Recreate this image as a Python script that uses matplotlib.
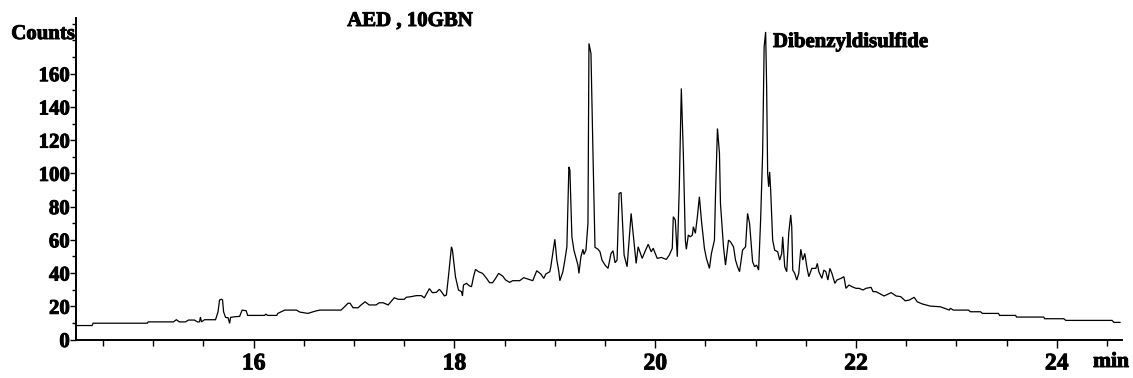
import matplotlib
matplotlib.use("Agg")
import matplotlib.pyplot as plt
import matplotlib.patheffects as pe
from matplotlib.ticker import FixedLocator, MultipleLocator

# ---------------- data ----------------
time_min = [
    14.24, 14.39, 14.40, 14.94, 14.95, 15.20, 15.23, 15.26, 15.32, 15.35,
    15.41, 15.44, 15.46, 15.47, 15.48, 15.51, 15.62, 15.645, 15.66, 15.68,
    15.69, 15.70, 15.72, 15.745, 15.76, 15.77, 15.81, 15.86, 15.885, 15.925,
    15.94, 16.11, 16.12, 16.14, 16.23, 16.24, 16.31, 16.425, 16.46, 16.54,
    16.62, 16.66,
    16.87, 16.89, 16.94, 16.96, 16.99, 17.04, 17.07, 17.11, 17.15, 17.22,
    17.25, 17.29, 17.34, 17.40, 17.44, 17.50, 17.52, 17.57, 17.62, 17.67,
    17.70, 17.75, 17.78, 17.82, 17.85, 17.87, 17.90, 17.92, 17.94, 17.97,
    17.98, 18.01, 18.04, 18.07, 18.08, 18.09, 18.12, 18.15, 18.17, 18.19,
    18.21, 18.24, 18.28, 18.32, 18.35, 18.38, 18.41, 18.44, 18.48, 18.51,
    18.55, 18.58, 18.65, 18.69, 18.73, 18.78,
    18.82, 18.86, 18.89, 18.91, 18.95, 18.96, 19.00, 19.02, 19.04, 19.05,
    19.08, 19.10, 19.12, 19.14, 19.15, 19.17, 19.19, 19.23, 19.24, 19.26,
    19.28, 19.29, 19.31, 19.33, 19.34, 19.36, 19.38, 19.40, 19.43, 19.45,
    19.47, 19.50, 19.53, 19.56, 19.58, 19.60, 19.62, 19.64, 19.66, 19.69,
    19.72, 19.76, 19.78, 19.81, 19.83, 19.87, 19.89, 19.93, 19.96, 19.98,
    20.02, 20.06,
    20.11, 20.14, 20.17, 20.18, 20.20, 20.22, 20.24, 20.26, 20.28, 20.30,
    20.31, 20.33, 20.35, 20.37, 20.38, 20.40, 20.42, 20.44, 20.46, 20.49,
    20.51, 20.54, 20.56, 20.59, 20.60, 20.62, 20.64, 20.65, 20.68, 20.70,
    20.73, 20.75, 20.78, 20.80, 20.82, 20.84, 20.87, 20.90, 20.92, 20.94,
    20.97, 20.99, 21.01, 21.03, 21.05, 21.07, 21.085, 21.10, 21.11, 21.12,
    21.13, 21.14, 21.15, 21.17, 21.19, 21.22, 21.24, 21.26, 21.27, 21.29,
    21.31, 21.33, 21.35,
    21.36, 21.37, 21.39, 21.41, 21.43, 21.45, 21.47, 21.49, 21.51, 21.53,
    21.56, 21.60, 21.615, 21.63, 21.66, 21.68, 21.70, 21.72, 21.74, 21.76,
    21.79, 21.81, 21.85, 21.88, 21.90, 21.93, 21.96, 22.00, 22.03, 22.07,
    22.10, 22.15, 22.17, 22.20, 22.23, 22.28, 22.35, 22.40, 22.445, 22.49,
    22.53, 22.58, 22.61, 22.66,
    22.74, 22.84, 22.88, 22.93, 22.94, 22.97, 23.12, 23.14, 23.24, 23.26,
    23.42, 23.43, 23.59, 23.60, 23.87, 23.88, 24.07, 24.09, 24.55, 24.57,
    24.63,
]

counts = [
    8.4, 8.4, 9.8, 9.8, 10.6, 10.6, 11.9, 10.6, 10.6, 11.7,
    11.7, 10.6, 10.6, 13.5, 10.6, 11.9, 11.9, 16.7, 23.8, 24.2,
    23.8, 16.7, 13.3, 13.1, 9.7, 13.3, 13.7, 13.9, 17.7, 17.3,
    14.5, 14.5, 15.3, 14.5, 14.5, 15.7, 17.7, 17.7, 16.5, 15.7,
    17.2, 17.7,
    17.7, 18.8, 21.8, 21.8, 19.1, 19.1, 20.8, 22.7, 20.8, 20.8,
    22.1, 22.1, 20.8, 25.1, 24.2, 24.2, 25.4, 25.8, 26.4, 26.4,
    25.1, 30.6, 28.2, 28.4, 30.2, 28.8, 26.2, 26.8, 37.8, 55.8,
    53.8, 37.8, 29.8, 28.8, 26.2, 32.8, 33.8, 32.2, 31.8, 37.8,
    42.2, 40.8, 39.8, 36.8, 34.2, 34.2, 36.8, 39.8, 38.2, 35.8,
    34.4, 35.4, 35.4, 37.2, 36.4, 35.4,
    41.4, 39.4, 36.8, 39.4, 40.8, 43.8, 60.3, 47.8, 40.8, 35.4,
    40.8, 47.8, 55.8, 103.9, 102.0, 61.8, 53.8, 44.8, 39.8, 49.8,
    54.3, 51.2, 53.8, 69.9, 178.2, 172.1, 112.0, 55.5, 54.3, 52.8,
    47.8, 44.8, 42.8, 51.8, 53.4, 46.2, 47.8, 87.9, 88.5, 50.8,
    43.8, 75.9, 63.9, 45.8, 55.8, 48.8, 51.8, 57.3, 52.8, 54.9,
    48.8, 49.4,
    48.2, 50.8, 54.9, 73.9, 71.9, 49.8, 91.9, 151.1, 112.0, 59.8,
    54.3, 62.9, 61.8, 62.9, 67.9, 63.9, 73.9, 85.9, 71.9, 54.9,
    48.8, 42.8, 51.8, 59.8, 85.9, 127.0, 112.0, 81.9, 55.8, 44.8,
    59.8, 58.8, 55.8, 47.8, 43.8, 40.8, 53.8, 55.8, 75.9, 69.9,
    46.8, 43.8, 44.8, 41.8, 71.9, 112.0, 176.1, 185.1, 152.1, 100.0,
    91.9, 100.9, 89.9, 59.8, 53.8, 52.8, 47.8, 51.8, 61.8, 43.8,
    40.8, 63.9, 75.0,
    67.9, 41.8, 39.8, 35.8, 39.8, 54.3, 47.8, 51.8, 43.8, 37.8,
    42.8, 42.8, 45.8, 40.8, 36.8, 41.8, 40.8, 35.8, 42.8, 39.8,
    33.8, 35.8, 36.8, 37.8, 30.8, 32.8, 31.8, 30.8, 30.8, 29.8,
    30.8, 31.4, 28.8, 28.8, 27.8, 26.2, 28.2, 26.2, 25.8, 23.3,
    23.7, 25.4, 22.7, 21.4,
    20.1, 19.7, 18.8, 17.7, 18.8, 17.7, 17.7, 16.7, 16.7, 15.7,
    15.7, 14.5, 14.5, 13.5, 13.5, 12.5, 12.5, 11.5, 11.5, 10.3,
    10.3,
]

y_tick_values = [0, 20, 40, 60, 80, 100, 120, 140, 160]
x_tick_values = [16, 18, 20, 22, 24]
title_text = "AED , 10GBN"
peak_text = "Dibenzyldisulfide"
y_unit = "Counts"
x_unit = "min"

# ---------------- figure ----------------
plt.rcParams['font.family'] = ['Liberation Serif', 'DejaVu Serif']
plt.rcParams['font.weight'] = 'bold'

heavy = [pe.withStroke(linewidth=0.7, foreground='black')]

W, H = 1133, 378
fig = plt.figure(figsize=(W / 100, H / 100), dpi=100)
left, right, bottom, top = 76, 1122, 339.5, 18
ax = fig.add_axes([left / W, 1 - bottom / H, (right - left) / W, (bottom - top) / H])

ax.plot(time_min, counts, color='black', lw=0.9, solid_joinstyle='miter')
ax.set_xlim(14.23, 24.65)
ax.set_ylim(0, 193.5)

for s in ('top', 'right'):
    ax.spines[s].set_visible(False)
for s in ('left', 'bottom'):
    ax.spines[s].set_linewidth(1.4)

ax.yaxis.set_major_locator(FixedLocator(y_tick_values))
ax.yaxis.set_minor_locator(MultipleLocator(10))
ax.xaxis.set_major_locator(FixedLocator(x_tick_values))
ax.xaxis.set_minor_locator(MultipleLocator(0.5))

ax.tick_params(axis='y', which='major', length=4, width=1.0, pad=0.5,
               labelsize=15, direction='out')
ax.tick_params(axis='y', which='minor', length=3, width=1.0, direction='out')
ax.tick_params(axis='x', which='major', length=6, width=1.0, pad=4,
               labelsize=17, direction='out')
ax.tick_params(axis='x', which='minor', length=4, width=1.0, direction='out')
for lab in ax.get_xticklabels() + ax.get_yticklabels():
    lab.set_fontweight('bold')
    lab.set_path_effects(heavy)

fig.text(75 / W, 1 - 34 / H, y_unit, ha='right', va='center',
         fontsize=15, fontweight='bold', path_effects=heavy)
fig.text(1111 / W, 1 - 362 / H, x_unit, ha='center', va='center',
         fontsize=15.5, fontweight='bold', path_effects=heavy)
fig.text(410 / W, 1 - 21 / H, title_text, ha='center', va='center',
         fontsize=15, fontweight='bold', path_effects=heavy)
fig.text(773 / W, 1 - 42 / H, peak_text, ha='left', va='center',
         fontsize=15, fontweight='bold', path_effects=heavy)

fig.savefig("out.png", dpi=100)
